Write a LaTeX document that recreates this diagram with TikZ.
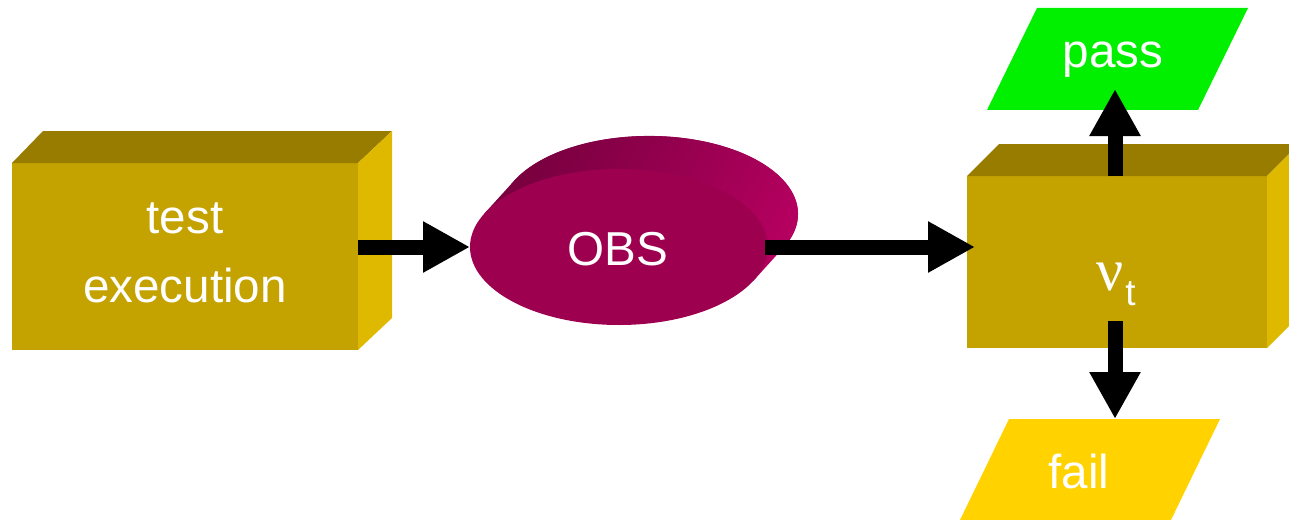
\documentclass[tikz,border=0pt]{standalone}
\usepackage{fontspec}
\setmainfont{Liberation Sans}
\newfontfamily\greekserif{Liberation Serif}
\usetikzlibrary{shapes.geometric,arrows.meta,calc}

\definecolor{boxfront}{HTML}{C4A200}
\definecolor{boxtop}{HTML}{987C00}
\definecolor{boxside}{HTML}{DFB800}
\definecolor{obsfront}{HTML}{9E0050}
\definecolor{obsdark}{HTML}{7A0040}
\definecolor{obslight}{HTML}{B4005F}
\definecolor{passgreen}{HTML}{00F000}
\definecolor{failyellow}{HTML}{FFD200}

\tikzset{
  x=0.5pt, y=-0.5pt,
  face/.style={rectangle, inner sep=0pt, outer sep=0pt, fill=boxfront},
  lbl/.style={anchor=base, text=white, inner sep=0pt,
              font=\fontsize{23.8}{28}\selectfont},
  conn/.style={line width=7.5pt, line cap=butt,
               -{Triangle[length=23.5pt, width=24pt]}},
  slot/.style={rectangle, inner sep=0pt, outer sep=0pt}
}

\begin{document}
\begin{tikzpicture}
\useasboundingbox (0,0) rectangle (1289,519);
\clip (0,0) rectangle (1289,519);

% ---- test execution block ----
\node[face, minimum width=173pt, minimum height=93.5pt] (exec) at (185,256.5) {};
\fill[boxtop] (exec.north west) -- ++(31,-32) -- ([shift={(34,-32)}]exec.north east)
  -- (exec.north east) -- cycle;
\fill[boxside] (exec.north east) -- ++(34,-32) -- ([shift={(34,-32)}]exec.south east)
  -- (exec.south east) -- cycle;
\node[lbl] at (185,233) {test};
\node[lbl] at (185,302) {execution};

% ---- OBS disc ----
\coordinate (obsback) at (649,214);
\shade[left color=obsdark, right color=obslight, shading angle=60]
  ($(619,247)+(-134.6,-33.5)$) -- ($(obsback)+(-134.6,-33.5)$)
  arc[start angle=154.6, end angle=-25.4, x radius=149, y radius=-78]
  -- ($(619,247)+(134.6,33.5)$) -- cycle;
\shade[left color=obsdark, right color=obslight, shading angle=60]
  (obsback) ellipse[x radius=149, y radius=78];
\node[ellipse, fill=obsfront, inner sep=0pt, outer sep=0pt,
      minimum width=149pt, minimum height=78pt] (obs) at (619,247) {};
\node[lbl] at (617.5,265) {OBS};

% ---- verdict block ----
\node[face, minimum width=150pt, minimum height=86pt] (verdict) at (1117,262) {};
\fill[boxtop] (verdict.north west) -- ++(32,-32) -- ([shift={(32,-32)}]verdict.north east)
  -- (verdict.north east) -- cycle;
\fill[boxside] (verdict.north east) -- ++(32,-32) -- ([shift={(32,-32)}]verdict.south east)
  -- (verdict.south east) -- cycle;
\node[anchor=base, text=white, inner sep=0pt, font=\greekserif\fontsize{30}{31}\selectfont]
  at (1110,290) {ν};
\node[anchor=base west, text=white, inner sep=0pt, font=\fontsize{18.5}{20}\selectfont]
  at (1125,305) {t};

% ---- outcomes ----
\fill[passgreen] (1037,8) -- (1248,8) -- (1198,110) -- (987,110) -- cycle;
\node[slot, minimum width=105pt, minimum height=51pt] (pass) at (1117.5,59) {};
\node[lbl] at (1113,68) {pass};

\fill[failyellow] (1009,419) -- (1220,419) -- (1170,522) -- (959,522) -- cycle;
\node[slot, minimum width=105pt, minimum height=50pt] (fail) at (1090,469) {};
\node[lbl] at (1079,488) {fail};

% ---- connectors ----
\draw[conn] (exec.east |- obs.west) -- (obs.west);
\draw[conn] ([xshift=-1.5pt]obs.east) -- ([xshift=4pt]verdict.west |- obs.east);
\draw[conn] ([xshift=-1pt]verdict.north) -- ([xshift=-1pt, yshift=10.5pt]verdict.north |- pass.south);
\draw[conn] ([xshift=-1pt, yshift=13.5pt]verdict.south) -- ([xshift=-1pt]verdict.south |- fail.north);
\end{tikzpicture}
\end{document}
